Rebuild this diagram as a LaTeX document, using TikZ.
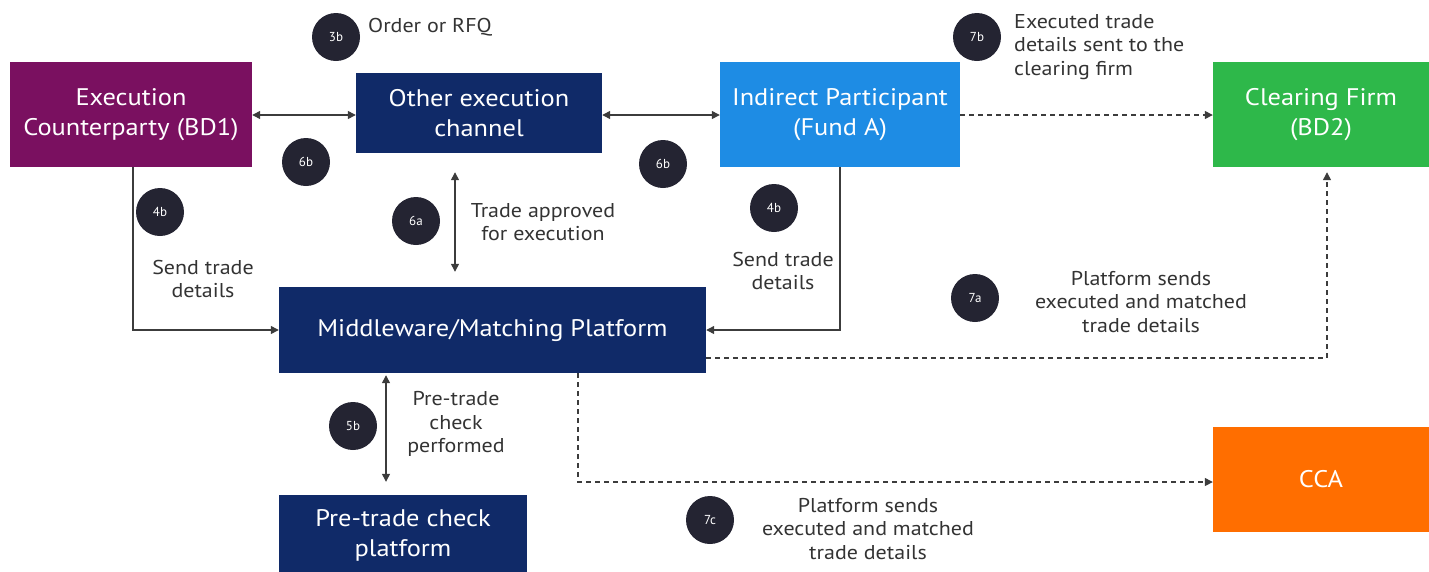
\documentclass[tikz,border=0pt]{standalone}
\usepackage{fontspec}
\setmainfont{PT Sans}
\newfontfamily\widesans[FakeStretch=1.1]{PT Sans}
\usetikzlibrary{arrows.meta,calc}
\definecolor{plum}{RGB}{122,16,96}
\definecolor{navy}{RGB}{16,42,104}
\definecolor{skyblue}{RGB}{30,140,228}
\definecolor{leaf}{RGB}{46,184,74}
\definecolor{tangerine}{RGB}{255,110,0}
\definecolor{badge}{RGB}{36,36,50}
\definecolor{wire}{RGB}{60,60,60}
\definecolor{ink}{RGB}{51,51,51}
\tikzset{
  box/.style={rectangle, inner sep=0pt, text=white, align=center,
    font=\widesans\fontsize{24}{30}\selectfont},
  badgenode/.style={circle, fill=badge, minimum size=48pt, inner sep=0pt,
    text=white, font=\fontsize{13}{14}\selectfont},
  lbl/.style={text=ink, font=\widesans\fontsize{20}{23.5}\selectfont, inner sep=0pt},
  link/.style={draw=wire, line width=1.3pt},
  tip/.style={-{Triangle[length=8pt,width=8pt]}},
  twotip/.style={{Triangle[length=8pt,width=8pt]}-{Triangle[length=8pt,width=8pt]}},
  dashline/.style={dash pattern=on 5pt off 4pt},
}
\begin{document}
\begin{tikzpicture}[x=1pt,y=-1pt]
\useasboundingbox (0,0) rectangle (1429,571);
\clip (0,0) rectangle (1429,571);

% boxes
\node[box, fill=plum, minimum width=242pt, minimum height=105pt] (bd1) at (131,114.5) {Execution\\Counterparty (BD1)};
\node[box, fill=navy, minimum width=246pt, minimum height=80pt] (oec) at (479,113) {Other execution\\channel};
\node[box, fill=skyblue, minimum width=240pt, minimum height=105pt] (ip) at (840,114.5) {Indirect Participant\\(Fund A)};
\node[box, fill=leaf, minimum width=216pt, minimum height=105pt] (cf) at (1321,114.5) {Clearing Firm\\(BD2)};
\node[box, fill=navy, minimum width=427pt, minimum height=86pt] (mw) at (492.5,330) {Middleware/Matching Platform};
\node[box, fill=navy, minimum width=248pt, minimum height=80pt] (ptc) at (403,535) {Pre-trade check\\platform};
\node[box, fill=tangerine, minimum width=216pt, minimum height=105pt] (cca) at (1321,479.5) {CCA};

% x positions of the vertical runs
\coordinate (xbd) at (133,0);
\coordinate (xip) at (840,0);
\coordinate (x6a) at (455,0);
\coordinate (x5b) at (386,0);
\coordinate (x7c) at (578,0);
\coordinate (x7a) at (1327,0);
\coordinate (y7a) at (0,358);
\coordinate (yrow) at (0,115);

% connectors
\draw[link, twotip] (bd1.east |- yrow) -- (oec.west |- yrow);
\draw[link, twotip] (oec.east |- yrow) -- (ip.west |- yrow);
\draw[link, tip, dashline] (ip.east |- yrow) -- (cf.west |- yrow);
\draw[link, twotip, shorten <=19pt, shorten >=15pt] (oec.south -| x6a) -- (mw.north -| x6a);
\draw[link, tip] (bd1.south -| xbd) |- (mw.west);
\draw[link, tip] (ip.south -| xip) |- (mw.east);
\draw[link, tip, dashline, shorten >=5pt] (mw.east |- y7a) -| (cf.south -| x7a);
\draw[link, twotip, shorten <=2pt, shorten >=13pt] (mw.south -| x5b) -- (ptc.north -| x5b);
\draw[link, tip, dashline] (mw.south -| x7c) |- (cca.west |- 0,482);

% step badges
\node[badgenode] (b3b) at (336,37) {3b};
\node[badgenode] (b6bl) at (306,162) {6b};
\node[badgenode] (b6br) at (663,164) {6b};
\node[badgenode] (b4bl) at (160,212) {4b};
\node[badgenode] (b6a) at (416,221) {6a};
\node[badgenode] (b4br) at (774,208) {4b};
\node[badgenode] (b7b) at (977,37) {7b};
\node[badgenode] (b7a) at (975,298) {7a};
\node[badgenode] (b5b) at (353,426) {5b};
\node[badgenode] (b7c) at (710,520) {7c};

% labels
\node[lbl, anchor=west] (t3b) at (368,27) {Order or RFQ};
\node[lbl, anchor=west, align=left] (t7b) at (1014,47) {Executed trade\\details sent to the\\clearing firm};
\node[lbl, align=center] (t6a) at (543,222) {Trade approved\\for execution};
\node[lbl, align=center] (t4bl) at (203,279) {Send trade\\details};
\node[lbl, align=center] (t4br) at (783,271) {Send trade\\details};
\node[lbl, align=center] (t7a) at (1141,302) {Platform sends\\executed and matched\\trade details};
\node[lbl, align=center] (t5b) at (456,424) {Pre-trade\\check\\performed};
\node[lbl, align=center] (t7c) at (868,529) {Platform sends\\executed and matched\\trade details};
\end{tikzpicture}
\end{document}
